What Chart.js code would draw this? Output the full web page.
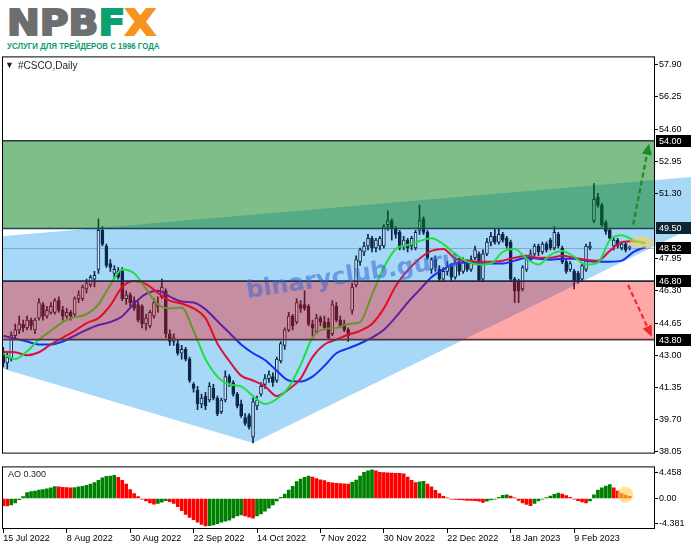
<!DOCTYPE html>
<html>
<head>
<meta charset="utf-8">
<title>#CSCO, Daily</title>
<script src="https://cdn.jsdelivr.net/npm/chart.js@4.4.1/dist/chart.umd.min.js"></script>
<style>
  html, body { margin: 0; padding: 0; background: #fff; }
  #wrap { position: relative; width: 691px; height: 549px; overflow: hidden; background: #fff; }
  #logo { position: absolute; left: 7px; top: 6px; font: bold 35px "DejaVu Sans", sans-serif; line-height: 34px;
          letter-spacing: 0; color: #6d6e70; -webkit-text-stroke: 2px #6d6e70;
          transform: scaleX(1.12); transform-origin: left top; white-space: nowrap; }
  #logo .f { color: #0c9f6f; -webkit-text-stroke-color: #0c9f6f; }
  #logo .x { color: #f7941d; -webkit-text-stroke-color: #f7941d; }
  #slogan { position: absolute; left: 7px; top: 40px; font: bold 9.5px "Liberation Sans", sans-serif;
            line-height: 12px; color: #0c9c6c; white-space: nowrap; transform: scaleX(0.83); transform-origin: left top; }
  #title { position: absolute; left: 5px; top: 60px; font: 10px "Liberation Sans", sans-serif; line-height: 12px; color: #1e1e1e; z-index: 3; }
  #title .tri { font-size: 9px; position: relative; top: -1px; margin-right: 4px; }
  #price { position: absolute; left: 0; top: 50px; }
  #ao { position: absolute; left: 0; top: 460px; }
</style>
</head>
<body>
<div id="wrap">
  <div id="logo">NPB<span class="f">F</span><span class="x">X</span></div>
  <div id="slogan">УСЛУГИ ДЛЯ ТРЕЙДЕРОВ С 1996 ГОДА</div>
  <canvas id="price" width="691" height="410"></canvas>
  <canvas id="ao" width="691" height="89"></canvas>
  <div id="title"><span class="tri">▼</span>#CSCO,Daily</div>
</div>
<script>
/**
 * DATA (one bar per trading day)
 */
const dateLabels = ['15 Jul 2022', '8 Aug 2022', '30 Aug 2022', '22 Sep 2022', '14 Oct 2022',
                    '7 Nov 2022', '30 Nov 2022', '22 Dec 2022', '18 Jan 2023', '9 Feb 2023'];
const dateTickBars = [0, 16, 32, 48, 64, 80, 96, 112, 128, 144];
const priceTicks = [57.90, 56.25, 54.60, 52.95, 51.30, 47.95, 46.30, 44.65, 43.00, 41.35, 39.70, 38.05];
const aoTicks = [4.458, 0, -4.381];
const aoTickLabels = ['4.458', '0.00', '-4.381'];

const opens = [
  43.2,42.6,42.8,44.0,44.3,44.6,44.4,44.8,44.3,44.9,
  45.6,45.0,45.2,45.2,45.8,45.3,45.0,45.2,45.1,45.9,
  45.9,46.4,46.6,46.9,47.4,49.4,48.6,47.7,47.2,47.3,
  47.3,45.9,46.1,45.8,45.6,45.5,44.6,44.5,45.0,45.6,
  46.0,46.3,44.1,43.7,43.6,43.1,43.3,42.8,41.5,41.2,
  40.5,40.9,40.7,41.3,40.8,40.1,40.7,41.9,41.6,41.0,
  40.5,39.8,39.9,38.8,40.4,41.0,41.5,41.8,41.9,41.7,
  42.7,43.5,44.3,45.0,44.7,45.6,45.6,45.5,44.6,44.2,
  44.9,44.7,44.7,44.1,45.5,44.8,44.6,44.3,45.3,46.6,
  47.8,48.3,48.6,49.0,48.5,48.6,48.6,49.7,49.9,49.5,
  49.3,48.6,48.9,48.6,48.5,49.4,50.0,49.3,47.4,47.9,
  47.4,46.9,47.3,47.6,47.0,47.7,47.3,47.8,47.4,48.0,
  48.2,46.9,48.2,48.8,49.1,48.8,49.2,49.0,48.8,46.9,
  46.8,46.4,47.4,47.9,48.2,48.6,48.3,48.7,48.9,48.5,
  49.2,48.5,47.8,47.4,47.3,47.2,46.9,47.4,48.5,49.9,
  51.1,50.7,49.8,49.4,48.6,48.9,48.5,48.7,48.5
];
const highs = [
  43.4,43.1,44.2,44.6,45.0,44.8,45.0,44.9,44.9,45.9,
  45.7,45.5,45.7,45.9,46.0,45.5,45.4,45.3,46.0,46.3,
  46.6,46.9,47.1,47.3,50.0,49.6,48.7,47.9,47.6,47.5,
  47.5,46.3,46.2,46.0,45.8,45.6,45.1,45.3,45.9,46.0,
  46.9,46.4,44.3,44.1,43.8,43.5,43.4,42.9,41.6,41.4,
  41.0,41.1,41.6,41.5,40.9,40.8,42.2,42.0,41.7,41.1,
  40.7,40.0,40.0,40.8,40.9,41.6,42.0,42.2,42.1,42.9,
  43.7,44.4,45.2,45.1,45.9,45.8,46.3,45.6,44.8,45.1,
  45.0,45.0,44.9,45.8,45.7,45.0,44.8,44.4,46.7,48.1,
  48.5,48.8,49.2,49.1,49.0,49.1,49.7,50.4,50.0,49.6,
  49.4,49.1,49.0,49.1,49.4,50.7,50.1,49.4,48.0,48.1,
  47.6,47.5,47.8,47.7,47.9,48.0,48.0,47.9,48.1,48.6,
  48.3,48.4,49.0,49.3,49.5,49.5,49.3,49.1,48.9,47.0,
  46.9,47.6,48.0,48.4,48.7,48.7,48.8,48.8,49.0,49.6,
  49.3,48.6,47.9,47.8,47.4,47.3,47.7,48.7,48.8,51.8,
  51.3,50.8,49.9,49.5,49.0,49.0,48.8,48.8,48.6
];
const lows = [
  42.4,42.3,42.7,43.8,44.1,44.2,44.3,44.3,44.1,44.8,
  44.8,44.9,45.1,45.1,45.2,44.8,44.9,44.8,45.0,45.7,
  45.8,46.2,46.5,46.5,47.2,48.6,47.5,47.3,46.9,46.9,
  45.8,45.6,45.5,45.3,44.7,44.4,44.3,44.4,44.9,45.2,
  45.9,43.9,43.5,43.5,43.0,42.8,42.7,41.6,41.1,40.2,
  40.3,40.2,40.6,40.7,39.9,40.0,40.6,41.4,40.9,40.3,
  39.8,39.4,39.2,38.5,40.2,40.9,41.3,41.6,41.4,41.6,
  42.6,43.3,44.2,44.3,44.6,45.2,45.3,44.5,44.0,44.1,
  44.5,44.3,43.8,44.0,44.7,44.4,44.2,43.7,45.1,46.5,
  47.6,48.1,48.4,48.3,48.3,48.4,48.5,49.4,48.9,49.0,
  48.4,48.4,48.3,48.4,48.4,49.2,49.2,47.9,47.2,47.3,
  46.8,46.8,47.1,46.8,46.9,47.1,47.2,47.3,47.3,47.9,
  46.8,46.8,48.1,48.6,48.7,48.7,48.8,48.5,46.8,45.7,
  45.7,46.3,47.3,47.8,48.1,48.1,48.2,48.3,48.4,48.4,
  48.5,47.7,47.2,47.3,46.4,46.7,46.8,47.3,48.4,49.8,
  50.6,49.6,49.2,48.9,48.4,48.5,48.4,48.3,48.4
];
const closes = [
  42.6,42.9,44.0,44.3,44.6,44.4,44.8,44.5,44.8,45.7,
  45.0,45.3,45.5,45.8,45.3,45.0,45.2,45.0,45.9,46.1,
  46.5,46.7,47.0,47.1,49.4,48.7,47.6,47.5,47.4,47.0,
  45.9,46.1,45.7,45.4,44.8,44.6,44.9,45.2,45.7,45.5,
  46.5,44.1,43.7,43.9,43.1,43.3,42.8,41.7,41.3,40.5,
  40.8,40.4,41.4,40.8,40.0,40.7,41.9,41.6,41.0,40.4,
  39.9,39.5,39.3,40.6,40.7,41.4,41.8,42.0,41.6,42.8,
  43.6,44.3,45.0,44.5,45.7,45.4,45.4,44.6,44.4,44.9,
  44.7,44.4,43.9,45.6,44.8,44.5,44.3,44.0,46.5,47.9,
  48.4,48.6,49.0,48.5,48.9,49.0,49.6,49.9,49.5,49.2,
  48.5,48.9,48.5,49.0,49.3,49.9,49.3,48.0,47.9,47.5,
  46.9,47.3,47.6,47.0,47.7,47.3,47.8,47.4,47.9,48.4,
  46.85,48.2,48.8,49.1,48.8,49.2,48.9,48.6,46.9,46.3,
  46.3,47.5,47.9,48.2,48.6,48.3,48.7,48.4,48.5,49.3,
  48.6,47.8,47.3,47.7,46.8,46.8,47.6,48.6,48.6,51.0,
  50.7,49.7,49.35,49.0,48.9,48.6,48.7,48.4,48.52
];

// Alligator lines, sampled every third bar (shifted lines run past the last candle)
const maBars = [0,3,6,9,12,15,18,21,24,27,30,33,36,39,42,45,48,51,54,57,60,63,66,69,72,75,78,81,
                84,87,90,93,96,99,102,105,108,111,114,117,120,123,126,129,132,135,138,141,144,147,150,153,156,159,162];
const lipsLine = [43.07,42.8,43.2,43.8,44.25,44.7,44.95,45.1,45.6,46.6,47.4,47.2,46.4,45.6,45.4,45.45,44.25,42.8,
                  41.9,41.5,41.4,40.9,40.5,40.75,41.35,42.5,43.9,44.35,44.4,44.6,44.7,46.1,47.5,48.45,48.65,48.85,
                  49.0,48.7,48.2,47.8,47.65,47.7,48.3,48.45,47.95,47.65,48.15,48.35,48.05,47.65,47.75,48.9,49.15,48.9,48.75];
const teethLine = [43.17,43.15,43.0,43.15,43.55,43.9,44.25,44.65,44.9,45.55,46.5,46.8,46.65,46.2,45.8,45.65,45.4,44.9,
                   43.6,42.7,41.95,41.7,41.4,40.9,41.25,41.8,42.9,43.55,43.8,44.05,44.25,44.6,45.4,46.55,47.35,47.95,
                   48.35,48.45,47.95,47.85,47.8,47.8,47.85,48.0,48.1,48.0,48.0,48.1,48.0,47.9,47.85,48.35,48.8,48.85,48.75];
const jawLine = [44.0,43.85,43.7,43.55,43.55,43.7,44.0,44.3,44.55,44.7,45.0,45.65,46.15,46.3,46.0,45.75,45.7,45.35,
                 44.75,44.15,43.55,43.1,42.75,42.2,41.7,41.65,41.9,42.45,43.1,43.35,43.6,43.9,44.3,44.95,45.7,46.35,
                 47.0,47.4,47.7,47.75,47.7,47.7,47.7,47.85,48.0,47.95,47.9,47.95,47.95,47.85,47.8,47.8,47.85,48.3,48.55];

const aoValues = [
  -1.25,-1.30,-1.13,-0.75,-0.21,0.34,1.04,1.21,1.31,1.48,
  1.58,1.69,1.86,2.07,2.02,1.97,1.91,1.86,1.91,2.02,
  2.13,2.29,2.51,2.78,3.16,3.59,3.87,3.92,4.03,3.70,
  3.16,2.51,1.58,0.88,0.34,-0.10,-0.42,-0.75,-0.97,-0.86,
  -0.64,-0.37,-0.53,-0.86,-1.40,-2.11,-2.76,-3.30,-3.68,-4.12,
  -4.50,-4.77,-4.71,-4.60,-4.39,-4.12,-3.95,-3.79,-3.36,-3.03,
  -2.87,-3.03,-3.25,-3.41,-3.03,-2.70,-2.21,-1.67,-1.13,-0.42,
  0.23,0.77,1.48,2.13,2.94,3.38,3.70,3.92,3.76,3.49,
  3.27,3.11,2.83,2.72,2.67,2.62,2.56,2.51,2.83,3.21,
  3.92,4.57,4.84,5.00,4.84,4.57,4.52,4.46,4.43,4.41,
  4.38,4.30,3.76,3.16,2.78,2.89,3.00,2.51,2.02,1.42,
  0.88,0.39,0.12,-0.10,-0.15,-0.21,-0.26,-0.31,-0.34,-0.37,
  -0.48,-0.69,-0.48,-0.26,-0.10,0.23,0.55,0.66,0.44,0.12,
  -0.31,-0.75,-1.02,-1.24,-0.86,-0.42,-0.10,0.17,0.44,0.72,
  0.93,0.77,0.50,0.23,-0.10,-0.37,-0.59,-0.75,-0.42,0.66,
  1.48,1.86,2.18,2.45,1.86,1.31,0.88,0.61,0.39
];

// analysis drawings
const levels = [54.00, 49.50, 46.80, 43.80];
const lastPrice = 48.52;
const upZone = [49.50, 54.00];
const downZone = [43.80, 46.80];
const triangleBars = [-0.33, 173.5, 173.5, 63.0, -0.33];
const trianglePrices = [49.10, 52.14, 49.51, 38.50, 42.31];
const arrowUp = [158.9, 49.7, 162.9, 53.85];
const arrowDown = [157.6, 46.6, 163.6, 43.95];

/**
 * CHART SETUP
 */
Chart.defaults.font.family = '"Liberation Sans", Arial, sans-serif';
Chart.defaults.font.size = 9;
Chart.defaults.color = '#000';

const X_MIN = -0.33, X_MAX = 164.4;
const CANDLE = '#0e2748';

const wickData = lows.map((l, k) => ({ x: k, y: [l, highs[k]] }));
const bodyData = opens.map((o, k) => ({ x: k, y: [o, closes[k]] }));
const bodyColors = opens.map((o, k) => closes[k] >= o ? '#c4e6fb' : CANDLE);
const pts = vals => maBars.map((b, k) => ({ x: b, y: vals[k] }));

function drawArrow(ctx, x, y, a, color) {
  const x0 = x.getPixelForValue(a[0]), y0 = y.getPixelForValue(a[1]);
  const x1 = x.getPixelForValue(a[2]), y1 = y.getPixelForValue(a[3]);
  const ang = Math.atan2(y1 - y0, x1 - x0), c = Math.cos(ang), s = Math.sin(ang);
  ctx.strokeStyle = color; ctx.fillStyle = color; ctx.lineWidth = 2.2;
  ctx.setLineDash([5, 3]);
  ctx.beginPath(); ctx.moveTo(x0, y0); ctx.lineTo(x1 - 9 * c, y1 - 9 * s); ctx.stroke();
  ctx.setLineDash([]);
  ctx.beginPath();
  ctx.moveTo(x1, y1);
  ctx.lineTo(x1 - 11 * c + 5 * s, y1 - 11 * s - 5 * c);
  ctx.lineTo(x1 - 11 * c - 5 * s, y1 - 11 * s + 5 * c);
  ctx.closePath(); ctx.fill();
}

const zonesBehind = {
  id: 'zonesBehind',
  beforeDraw(chart) {
    const { ctx, chartArea: ca, scales: { x, y } } = chart;
    ctx.save();
    ctx.fillStyle = '#a8d8f8';
    ctx.beginPath();
    triangleBars.forEach((b, k) => {
      const px = x.getPixelForValue(b), py = y.getPixelForValue(trianglePrices[k]);
      if (k === 0) ctx.moveTo(px, py); else ctx.lineTo(px, py);
    });
    ctx.closePath(); ctx.fill();
    const ly = Math.round(y.getPixelForValue(lastPrice)) + 0.5;
    ctx.strokeStyle = 'rgba(60,90,120,0.35)'; ctx.lineWidth = 1;
    ctx.beginPath(); ctx.moveTo(ca.left, ly); ctx.lineTo(ca.right, ly); ctx.stroke();
    ctx.restore();
  }
};

const zonesOnTop = {
  id: 'zonesOnTop',
  afterDatasetsDraw(chart) {
    const { ctx, chartArea: ca, scales: { x, y } } = chart;
    ctx.save();
    const band = (lo, hi, color) => {
      const t = y.getPixelForValue(hi), b = y.getPixelForValue(lo);
      ctx.fillStyle = color; ctx.fillRect(ca.left, t, ca.right - ca.left, b - t);
    };
    band(upZone[0], upZone[1], 'rgba(0,125,17,0.5)');
    band(downZone[0], downZone[1], 'rgba(255,0,0,0.34)');

    const lineColors = ['#2f3936', '#1f4455', '#1c2f40', '#5b2f3a'];
    levels.forEach((v, k) => {
      const ly = y.getPixelForValue(v);
      ctx.strokeStyle = lineColors[k]; ctx.lineWidth = 1.6;
      ctx.beginPath(); ctx.moveTo(ca.left, ly); ctx.lineTo(ca.right, ly); ctx.stroke();
    });

    // watermark
    ctx.save();
    ctx.translate(x.getPixelForValue(88.2), y.getPixelForValue(47.07));
    ctx.rotate(-0.15);
    ctx.font = 'bold 24px "DejaVu Sans", sans-serif';
    ctx.fillStyle = 'rgba(60,100,210,0.55)';
    ctx.textAlign = 'center'; ctx.textBaseline = 'middle';
    ctx.fillText('binaryclub.guru', 0, 0);
    ctx.restore();

    drawArrow(ctx, x, y, arrowUp, '#1c8a24');
    drawArrow(ctx, x, y, arrowDown, '#ee2a2a');

    // highlight on the last bars
    ctx.fillStyle = 'rgba(255,212,70,0.55)';
    ctx.beginPath();
    ctx.ellipse(x.getPixelForValue(161.1), y.getPixelForValue(48.8), 12, 6, 0, 0, Math.PI * 2);
    ctx.fill();

    ctx.strokeStyle = '#000'; ctx.lineWidth = 1;
    ctx.strokeRect(ca.left + 0.5, ca.top + 0.5, ca.right - ca.left - 1, ca.bottom - ca.top - 1);
    ctx.restore();
  },
  afterDraw(chart) {
    const { ctx, chartArea: ca, scales: { y } } = chart;
    ctx.save();
    ctx.font = '9px "Liberation Sans", Arial, sans-serif';
    ctx.textBaseline = 'middle';
    [...levels, lastPrice].forEach(v => {
      const py = Math.round(y.getPixelForValue(v));
      ctx.fillStyle = v === 49.5 ? '#0d2433' : '#000';
      ctx.fillRect(ca.right + 1, py - 6, 35, 12);
      ctx.fillStyle = '#fff';
      ctx.fillText(v.toFixed(2), ca.right + 4, py + 0.5);
    });
    ctx.restore();
  }
};

new Chart(document.getElementById('price'), {
  type: 'bar',
  data: {
    datasets: [
      { type: 'bar', data: wickData, backgroundColor: CANDLE, barThickness: 1, grouped: false, order: 6 },
      { type: 'bar', data: bodyData, backgroundColor: bodyColors, borderColor: CANDLE, borderWidth: 1,
        borderSkipped: false, barThickness: 3, minBarLength: 1, grouped: false, order: 5 },
      { type: 'line', data: pts(jawLine), borderColor: '#1530f0', borderWidth: 2, pointRadius: 0,
        cubicInterpolationMode: 'monotone', order: 3 },
      { type: 'line', data: pts(teethLine), borderColor: '#d8143a', borderWidth: 2, pointRadius: 0,
        cubicInterpolationMode: 'monotone', order: 2 },
      { type: 'line', data: pts(lipsLine), borderColor: '#1ee040', borderWidth: 2, pointRadius: 0,
        cubicInterpolationMode: 'monotone', order: 1 }
    ]
  },
  options: {
    responsive: false, animation: false, devicePixelRatio: 1, events: [],
    layout: { padding: { left: 2, top: 6, right: 0, bottom: 2 } },
    plugins: { legend: { display: false }, tooltip: { enabled: false } },
    scales: {
      x: { type: 'linear', min: X_MIN, max: X_MAX, offset: false, display: false, grid: { offset: false } },
      y: {
        type: 'linear', position: 'right', min: 37.95, max: 58.33, beginAtZero: false,
        afterFit: s => { s.width = 36; },
        afterBuildTicks: s => { s.ticks = priceTicks.map(v => ({ value: v })); },
        ticks: { callback: v => v.toFixed(2), padding: 1 },
        grid: { drawOnChartArea: false, tickLength: 3, color: '#000' },
        border: { display: false }
      }
    }
  },
  plugins: [zonesBehind, zonesOnTop]
});

/**
 * AWESOME OSCILLATOR PANEL
 */
const aoColors = aoValues.map((v, k) => (k > 0 && v > aoValues[k - 1]) ? '#008000' : '#ff0000');

const aoDecor = {
  id: 'aoDecor',
  afterDatasetsDraw(chart) {
    const { ctx, chartArea: ca, scales: { x, y } } = chart;
    ctx.save();
    ctx.fillStyle = 'rgba(255,212,70,0.6)';
    ctx.beginPath();
    ctx.arc(x.getPixelForValue(156.9), y.getPixelForValue(0.64), 8, 0, Math.PI * 2);
    ctx.fill();
    ctx.fillStyle = '#1e1e1e';
    ctx.font = '9px "Liberation Sans", Arial, sans-serif';
    ctx.textBaseline = 'middle';
    ctx.fillText('AO 0.300', ca.left + 6, ca.top + 8);
    ctx.strokeStyle = '#000'; ctx.lineWidth = 1;
    ctx.strokeRect(ca.left + 0.5, ca.top + 0.5, ca.right - ca.left - 1, ca.bottom - ca.top - 1);
    ctx.restore();
  }
};

new Chart(document.getElementById('ao'), {
  type: 'bar',
  data: {
    datasets: [{
      data: aoValues.map((v, k) => ({ x: k, y: v })),
      backgroundColor: aoColors, barThickness: 3, grouped: false
    }]
  },
  options: {
    responsive: false, animation: false, devicePixelRatio: 1, events: [],
    layout: { padding: { left: 2, top: 2, right: 0, bottom: 0 } },
    plugins: { legend: { display: false }, tooltip: { enabled: false } },
    scales: {
      x: {
        type: 'linear', min: X_MIN, max: X_MAX, offset: false, position: 'bottom',
        afterFit: s => { s.height = 20; },
        afterBuildTicks: s => { s.ticks = dateTickBars.map(v => ({ value: v })); },
        ticks: { callback: (v, k) => dateLabels[k], align: 'start', maxRotation: 0, autoSkip: false, padding: 0 },
        grid: { drawOnChartArea: false, tickLength: 4, color: '#000', offset: false },
        border: { display: false }
      },
      y: {
        type: 'linear', position: 'right', min: -5.31, max: 5.60, beginAtZero: false,
        afterFit: s => { s.width = 36; },
        afterBuildTicks: s => { s.ticks = aoTicks.map(v => ({ value: v })); },
        ticks: { callback: (v, k) => aoTickLabels[k], padding: 1 },
        grid: { drawOnChartArea: false, tickLength: 3, color: '#000' },
        border: { display: false }
      }
    }
  },
  plugins: [aoDecor]
});
</script>
</body>
</html>
